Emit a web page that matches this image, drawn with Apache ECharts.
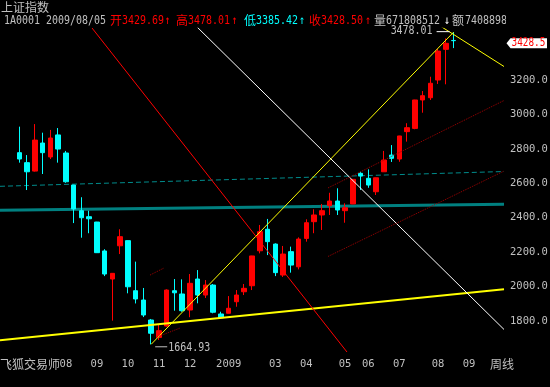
<!DOCTYPE html>
<html><head><meta charset="utf-8">
<script src="https://cdn.jsdelivr.net/npm/echarts@6/dist/echarts.min.js"></script>
<style>html,body{margin:0;padding:0;background:#000;}#c{width:550px;height:387px;}</style>
</head><body><div id="c"></div>
<script>
// ---------- data ----------
const stockName = '上证指数';
const stockCode = '1A0001';
const volume = 671808512;
const amount = '7408898';
const padBefore = ['2008/06/13','2008/06/20'];
const padAfter = ['2009/08/14','2009/08/21','2009/08/28','2009/09/04','2009/09/11','2009/09/18'];
const weeks = ['2008/06/27','2008/07/04','2008/07/11','2008/07/18','2008/07/25','2008/08/01','2008/08/08','2008/08/15','2008/08/22','2008/08/29','2008/09/05','2008/09/12','2008/09/19','2008/09/26','2008/10/10','2008/10/17','2008/10/24','2008/10/31','2008/11/07','2008/11/14','2008/11/21','2008/11/28','2008/12/05','2008/12/12','2008/12/19','2008/12/26','2008/12/31','2009/01/09','2009/01/16','2009/01/23','2009/02/06','2009/02/13','2009/02/20','2009/02/27','2009/03/06','2009/03/13','2009/03/20','2009/03/27','2009/04/03','2009/04/10','2009/04/17','2009/04/24','2009/04/30','2009/05/08','2009/05/15','2009/05/22','2009/05/27','2009/06/05','2009/06/12','2009/06/19','2009/06/26','2009/07/03','2009/07/10','2009/07/17','2009/07/24','2009/07/31','2009/08/05'];
const opens  = [2778,2720,2671,2834,2753,2881,2776,2590,2441,2406,2375,2207,2044,2237,2267,1976,1922,1806,1705,1771,1976,1957,1864,2044,1951,2009,1841,1845,1912,1970,2005,2208,2333,2247,2067,2203,2115,2280,2377,2416,2470,2497,2441,2480,2658,2629,2551,2667,2764,2741,2900,2919,3084,3097,3200,3378,3429.69];
const closes = [2741,2667,2851,2778,2863,2799,2609,2451,2400,2394,2197,2073,2077,2290,1999,1928,1835,1729,1744,1980,1964,1860,2019,1951,2009,1851,1819,1874,1951,1990,2178,2319,2261,2081,2189,2125,2276,2371,2416,2441,2497,2445,2458,2623,2642,2590,2632,2735,2745,2875,2923,3084,3109,3181,3368,3413,3428.50];
const lows   = [2720,2561,2668,2654,2741,2720,2603,2369,2284,2310,2195,2061,1802.33,2189,1961,1902,1823,1664.93,1690,1767,1860,1854,1822,1903,1934,1845,1815,1845,1883,1951,1980,2193,2183,2061,2056,2081,2100,2261,2310,2329,2416,2416,2371,2479,2561,2574,2532,2667,2724,2725,2842,2914,3010,3084,3177,3175,3385.42];
const highs  = [2929,2764,2944,2894,2910,2921,2788,2591,2519,2441,2376,2217,2078,2333,2268,2145,1992,1812,1783,1984,2044,2042,2073,2096,2038,2015,1854,1945,1980,2015,2179,2358,2393,2251,2236,2232,2286,2391,2449,2480,2545,2571,2484,2624,2667,2681,2633,2788,2822,2876,2949,3085,3136,3219,3380,3442,3478.01];
const monthTicks = {'2008/08/08':'08','2008/09/05':'09','2008/10/10':'10','2008/11/07':'11','2008/12/05':'12','2009/01/09':'2009','2009/02/27':'03','2009/03/27':'04','2009/04/30':'05','2009/05/22':'06','2009/06/19':'07','2009/07/24':'08','2009/08/21':'09'};
const yTicks = [1800,2000,2200,2400,2600,2800,3000,3200];
// drawn lines, points as [week index, price]
const fanDown = [[56.38,3510.8],[64.5,3278.4]];
const supportLine = [[-0.5,1688],[64.5,1985]];
const whiteLine = [[24.91,3508],[64.5,1751]];
const redLine = [[11.37,3502],[44.25,1620]];
const channelUpperA = [[18.85,2067],[20.65,2108]];
const channelUpperB = [[41.8,2573],[64.5,3081]];
const channelLowerA = [[19.75,1707],[22.71,1759]];
const channelLowerB = [[41.8,2175],[64.5,2671]];
const tealBand = [[-0.5,2443],[64.5,2478.5]];
const tealDash = [[-0.5,2582.5],[64.5,2668.5]];

// ---------- chart ----------
const GRAY='#C0C0C0', RED='#FF0000', CYAN='#00FFFF';
const cats = padBefore.concat(weeks, padAfter);
const N = cats.length;
const candleData = cats.map(d => { const k = weeks.indexOf(d); return k < 0 ? '-' : [opens[k], closes[k], lows[k], highs[k]]; });
const lowV = Math.min(...lows), highV = Math.max(...highs);
const lowIdx = padBefore.length + lows.indexOf(lowV);
const highIdx = padBefore.length + highs.indexOf(highV);
const trendLine = [[lowIdx, lowV], [highIdx, highV]];

function ln(points, color, width, type, z) {
  return {type:'line', xAxisIndex:1, yAxisIndex:0, data:points, symbol:'none', silent:true,
    animation:false, lineStyle:{color:color, width:width, type:type}, z:z, clip:true};
}

const chart = echarts.init(document.getElementById('c'));
chart.setOption({
  backgroundColor:'#000',
  animation:false,
  grid:{left:0, top:28.36, width:504, height:327.1, containLabel:false, outerBoundsMode:'none'},
  xAxis:[
    {type:'category', data:cats, boundaryGap:true, axisLine:{show:false}, axisTick:{show:false}, splitLine:{show:false},
     axisLabel:{interval:0, color:GRAY, fontFamily:'DejaVu Sans Mono', fontSize:10.5, margin:3,
       formatter:(v)=>monthTicks[v]||''}},
    {type:'value', min:-0.5, max:N-0.5, show:false}
  ],
  yAxis:{type:'value', position:'right', min:1600, max:3500, interval:200, scale:false,
    axisLine:{show:false}, axisTick:{show:false}, splitLine:{show:false},
    axisLabel:{color:GRAY, fontFamily:'DejaVu Sans Mono', fontSize:10.5, margin:6,
      formatter:(v)=>yTicks.includes(v)?v.toFixed(1):''}},
  series:[
    ln(tealBand,'#008080',3,'solid',1),
    ln(tealDash,'#008B8B',1,[5,3],1),
    {type:'candlestick', data:candleData, barWidth:5, silent:true, z:3,
     itemStyle:{color:RED, color0:CYAN, borderColor:RED, borderColor0:CYAN, borderWidth:1}},
    ln(supportLine,'#FFFF00',2,'solid',4),
    ln(trendLine,'#FFFF00',1,'solid',4),
    ln(fanDown,'#FFFF00',1,'solid',4),
    ln(whiteLine,'#FFFFFF',1,'solid',4),
    ln(redLine,'#FF0000',1,'solid',4),
    ln(channelUpperA,'#A00000',1,'dotted',4),
    ln(channelUpperB,'#A00000',1,'dotted',4),
    ln(channelLowerA,'#A00000',1,'dotted',4),
    ln(channelLowerB,'#A00000',1,'dotted',4)
  ]
});

// ---------- texts / markers ----------
const fmt = v => v.toFixed(2);
const k = weeks.length - 1;
const lastDate = weeks[k];
const g = [];
function asc(x, y, text, color, extra, sx) {
  g.push(Object.assign({type:'text', x:x, y:y, scaleX:sx||0.83, z:50,
    style:{text:text, fill:color, fontFamily:'DejaVu Sans Mono', fontSize:12, verticalAlign:'middle', align:'left'}}, extra||{}));
}
function cjk(x, y, text, color, size) {
  g.push({type:'text', x:x, y:y, z:50,
    style:{text:text, fill:color, fontFamily:'Noto Sans CJK SC', fontSize:size||12, verticalAlign:'middle', align:'left'}});
}
cjk(1, 7, stockName, GRAY, 12);
const HY = 20.5;
asc(4, HY, stockCode + ' ' + lastDate, GRAY);
cjk(110, HY, '开', RED); asc(122, HY, fmt(opens[k]), RED); asc(164.5, HY, '↑', RED);
cjk(176, HY, '高', RED); asc(188, HY, fmt(highs[k]), RED); asc(231.5, HY, '↑', RED);
cjk(244, HY, '低', CYAN); asc(256, HY, fmt(lows[k]), CYAN); asc(299, HY, '↑', CYAN);
cjk(309, HY, '收', RED); asc(321, HY, fmt(closes[k]), RED); asc(365, HY, '↑', RED);
cjk(374, HY, '量', GRAY); asc(386, HY, String(volume), GRAY); asc(444, HY, '↓', '#FFFFFF');
cjk(452, HY, '额', GRAY); asc(465, HY, amount, GRAY);
g.push({type:'rect', z:60, shape:{x:506, y:13, width:44, height:14}, style:{fill:'#000'}});

// low / high markers
const [lx, ly] = chart.convertToPixel({xAxisIndex:0, yAxisIndex:0}, [lowIdx, lowV]);
const [hx, hy] = chart.convertToPixel({xAxisIndex:0, yAxisIndex:0}, [highIdx, highV]);
g.push({type:'line', z:50, shape:{x1:lx+4, y1:ly+2.5, x2:lx+16, y2:ly+2.5}, style:{stroke:GRAY, lineWidth:1}});
asc(lx+17, ly+3.5, lowV.toFixed(2), GRAY);
g.push({type:'line', z:50, shape:{x1:hx-17, y1:hy-0.5, x2:hx-4, y2:hy-0.5}, style:{stroke:'#FFFFFF', lineWidth:1}});
asc(hx-21, hy-1, highV.toFixed(2), GRAY, {});
g[g.length-1].style.align = 'right';

// last price tag
const [, cy0] = chart.convertToPixel({xAxisIndex:0, yAxisIndex:0}, [highIdx, closes[k]]);
const cy = cy0 + 2.5;
g.push({type:'polygon', z:50, shape:{points:[[506.5,cy],[510.5,cy-5],[547,cy-5],[547,cy+5],[510.5,cy+5]]}, style:{fill:'#FFFFFF'}});
asc(511.5, cy, closes[k].toFixed(1), RED, {z:51}, 0.78);

// bottom texts
cjk(0, 364, '飞狐交易师', GRAY, 12);
cjk(490, 364, '周线', GRAY, 12);

chart.setOption({graphic:g});
</script>
</body></html>
